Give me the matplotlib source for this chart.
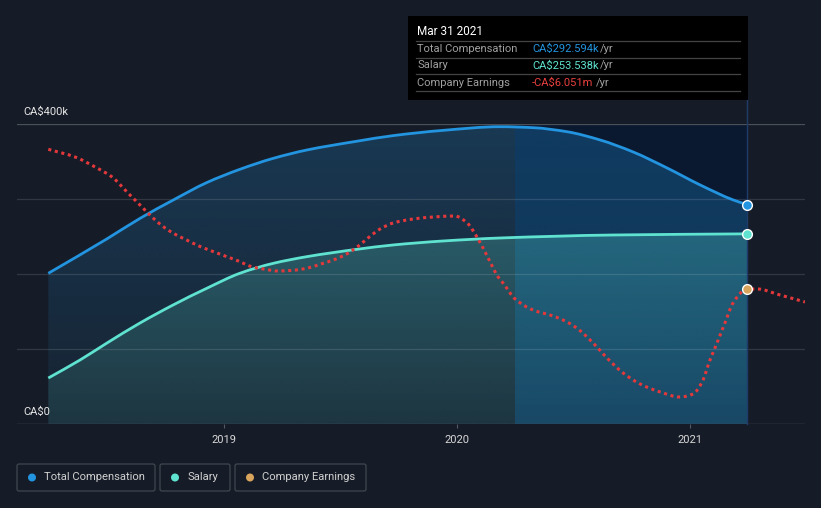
import matplotlib.pyplot as plt
import numpy as np
from matplotlib.colors import to_rgb
from matplotlib.patches import Rectangle, FancyBboxPatch, Circle, PathPatch
from matplotlib.lines import Line2D
from matplotlib.path import Path

plt.rcParams['font.family'] = ['Roboto', 'DejaVu Sans']

# ---------------- dados ----------------
# remuneracao total (CA$ mil)
anos_total = [2018.244, 2018.495, 2018.638, 2018.781, 2018.924, 2019.067, 2019.210,
              2019.354, 2019.569, 2019.725, 2019.939, 2020.184, 2020.326, 2020.472,
              2020.614, 2020.756, 2020.902, 2021.044, 2021.186, 2021.245]
total = [200.9, 246.7, 274.2, 298.7, 321.8, 339.6, 354.2,
         365.3, 377.0, 384.5, 391.5, 396.4, 395.1, 389.7,
         378.7, 362.7, 341.3, 318.7, 298.7, 292.594]

# salario (CA$ mil)
anos_sal = [2018.244, 2018.380, 2018.496, 2018.638, 2018.780, 2018.925, 2019.067,
            2019.210, 2019.354, 2019.569, 2019.725, 2019.939, 2020.184, 2020.670, 2021.245]
salario = [61.3, 85.3, 108.0, 134.7, 158.7, 181.0, 201.0,
           214.2, 223.1, 232.9, 238.7, 244.0, 248.0, 252.0, 253.538]

# lucro da empresa (CA$ milhoes)
anos_lucro = [2018.244, 2018.359, 2018.445, 2018.518, 2018.582, 2018.645, 2018.688,
              2018.734, 2018.781, 2018.838, 2018.891, 2018.946, 2019.003, 2019.060,
              2019.118, 2019.175, 2019.232, 2019.294, 2019.354, 2019.411, 2019.468,
              2019.523, 2019.576, 2019.617, 2019.669, 2019.725, 2019.811, 2019.897,
              2019.991, 2020.043, 2020.090, 2020.133, 2020.176, 2020.197, 2020.249,
              2020.326, 2020.412, 2020.472, 2020.519, 2020.584, 2020.648, 2020.713,
              2020.786, 2020.872, 2020.957, 2021.013, 2021.052, 2021.086, 2021.116,
              2021.150, 2021.185, 2021.245, 2021.288, 2021.387, 2021.494]
lucro = [-0.463, -0.771, -1.171, -1.571, -2.171, -2.759, -3.159,
         -3.531, -3.823, -4.091, -4.331, -4.531, -4.731, -4.931,
         -5.159, -5.263, -5.331, -5.303, -5.223, -5.063, -4.891,
         -4.663, -4.331, -4.011, -3.651, -3.411, -3.251, -3.171,
         -3.131, -3.411, -4.051, -4.811, -5.571, -5.811, -6.451,
         -6.891, -7.131, -7.371, -7.651, -8.211, -8.851, -9.411,
         -9.851, -10.171, -10.371, -10.251, -9.771, -8.891, -8.211,
         -7.411, -6.611, -6.051, -6.051, -6.291, -6.571]
i_tooltip = 51  # ponto do lucro em Mar 31 2021

anos_ticks = [2019, 2020, 2021]
rotulos_y = {0: 'CA$0', 400: 'CA$400k'}
data_tooltip = 'Mar 31 2021'
destaque = [2020.247, 2021.245]

# cores
fundo = '#161c27'
azul = '#2394df'
verde = '#5fe3d0'
vermelho = '#e5383b'
laranja = '#d9a45b'

fig = plt.figure(figsize=(8.21, 5.08), dpi=100, facecolor=fundo)
T = fig.dpi_scale_trans


def P(x, y):
    # pixel (origem no topo) -> polegadas
    return x / 100, (508 - y) / 100


def caminho_suave(x, y, area=False):
    # curva cubica monotona passando pelos pontos (so desenho)
    x = np.asarray(x, float)
    y = np.asarray(y, float)
    h = np.diff(x)
    d = np.diff(y) / h
    m = np.zeros_like(y)
    m[0], m[-1] = d[0], d[-1]
    for i in range(1, len(x) - 1):
        if d[i - 1] * d[i] <= 0:
            m[i] = 0
        else:
            m[i] = 3 * (h[i - 1] + h[i]) / ((2 * h[i] + h[i - 1]) / d[i - 1] + (h[i] + 2 * h[i - 1]) / d[i])
    verts = [(x[0], y[0])]
    codes = [Path.MOVETO]
    for i in range(len(h)):
        verts += [(x[i] + h[i] / 3, y[i] + m[i] * h[i] / 3),
                  (x[i + 1] - h[i] / 3, y[i + 1] - m[i + 1] * h[i] / 3),
                  (x[i + 1], y[i + 1])]
        codes += [Path.CURVE4] * 3
    if area:
        verts = [(x[0], 0)] + verts + [(x[-1], 0), (x[0], 0)]
        codes = [Path.MOVETO, Path.LINETO] + codes[1:] + [Path.LINETO, Path.CLOSEPOLY]
    return Path(verts, codes)


def gradiente(ax, caminho, x0, x1, topo, cor, a_top, a_bot, z):
    img = np.zeros((200, 1, 4))
    img[:, :, :3] = to_rgb(cor)
    img[:, 0, 3] = np.linspace(a_bot, a_top, 200)
    im = ax.imshow(img, aspect='auto', origin='lower', zorder=z, extent=[x0, x1, 0, topo],
                   interpolation='bilinear')
    im.set_clip_path(caminho, ax.transData)


ax = fig.add_axes([17 / 821, 84 / 508, 788 / 821, 300 / 508])
ax.set_facecolor('none')

area_total = caminho_suave(anos_total, total, area=True)
area_sal = caminho_suave(anos_sal, salario, area=True)

gradiente(ax, area_total, anos_total[0], anos_total[-1], max(total), azul, 0.24, 0.06, 1)
gradiente(ax, area_sal, anos_sal[0], anos_sal[-1], max(salario), verde, 0.24, 0.10, 1.1)

# faixa destacada (ultimo ano): escurece em cima, clareia embaixo
ax.axvspan(destaque[0], destaque[1], color='#021839', alpha=0.5, lw=0, zorder=1.2)
gradiente(ax, area_total, destaque[0], destaque[1], max(total), azul, 0.18, 0.22, 1.3)
gradiente(ax, area_sal, destaque[0], destaque[1], max(salario), verde, 0.19, 0.07, 1.4)

# grade
for v in [100, 200, 300]:
    ax.axhline(v, color='white', alpha=0.12, lw=0.9, zorder=1.5)
ax.axhline(400, color='#4a4f58', lw=0.9, zorder=1.5)
ax.axhline(0, color='#4a4f58', lw=1.0, zorder=1.5)

ax.add_patch(PathPatch(caminho_suave(anos_total, total), fill=False, edgecolor=azul,
                       lw=2.0, zorder=3, capstyle='butt'))
ax.add_patch(PathPatch(caminho_suave(anos_sal, salario), fill=False, edgecolor=verde,
                       lw=2.0, zorder=3, capstyle='butt'))

# linha vertical do tooltip
ax.axvline(destaque[1], ymin=0, ymax=324 / 300, color='#1f3b6a', lw=1, clip_on=False, zorder=2)

ax.plot(anos_total[-1], total[-1], 'o', ms=7, mfc=azul, mec='white', mew=1, zorder=6)
ax.plot(anos_sal[-1], salario[-1], 'o', ms=7, mfc=verde, mec='white', mew=1, zorder=6)

ax.set_xlim(2018.1095, 2021.494)
ax.set_ylim(0, 400)
ax.set_yticks([])
ax.set_xticks(anos_ticks)
ax.set_xticklabels([str(a) for a in anos_ticks])
ax.tick_params(axis='x', colors='#555a62', length=3, width=0.8, pad=5, labelcolor='#d8d8d8',
               labelsize=8)
for s in ax.spines.values():
    s.set_visible(False)

for v, r in rotulos_y.items():
    ax.text(2018.137, v + 16, r, color='#e6e6e6', fontsize=8, va='center', ha='left')

# lucro em eixo secundario escondido
ax2 = ax.twinx()
ax2.set_ylim(-11.451, 0.549)
ax2.set_xlim(2018.1095, 2021.494)
ax2.axis('off')
ax2.add_patch(PathPatch(caminho_suave(anos_lucro, lucro), fill=False, edgecolor=vermelho,
                        lw=2.2, ls=(0, (1, 1.2)), zorder=4, capstyle='butt'))
ax2.plot(anos_lucro[i_tooltip], lucro[i_tooltip], 'o', ms=7, mfc=laranja, mec='white', mew=1,
         zorder=6)

# ---------------- tooltip ----------------
fig.patches.append(Rectangle(P(408, 100), 3.40, 0.84, transform=T, facecolor='black',
                             edgecolor='none', zorder=10))
for yy in [40.7, 57.7, 74.3, 91]:
    fig.lines.append(Line2D([4.16, 7.40], [(508 - yy) / 100] * 2, transform=T,
                            color='#444444', lw=0.9, zorder=11))
fig.text(*P(417, 31), data_tooltip, transform=T, color='white', fontsize=8.5,
         va='center', zorder=12)
linhas = [('Total Compensation', f'CA${total[-1]:.3f}k', azul, 600),
          ('Salary', f'CA${salario[-1]:.3f}k', verde, 600),
          ('Company Earnings', f'-CA${abs(lucro[i_tooltip]):.3f}m', '#e8403f', 596)]
for i, (nome, valor, cor, xyr) in enumerate(linhas):
    yy = 48.5 + 17 * i
    fig.text(*P(417, yy), nome, transform=T, color='#a0a0a0', fontsize=8, va='center', zorder=12)
    fig.text(*P(532, yy), valor, transform=T, color=cor, fontsize=8, va='center', zorder=12)
    fig.text(*P(xyr, yy), '/yr', transform=T, color='#a0a0a0', fontsize=8, va='center', zorder=12)

# ---------------- legenda ----------------
legenda = [('Total Compensation', azul, 17, 155),
           ('Salary', verde, 160, 230),
           ('Company Earnings', laranja, 235, 366)]
for nome, cor, x0, x1 in legenda:
    fig.patches.append(FancyBboxPatch(P(x0, 491), (x1 - x0) / 100, 0.27, transform=T,
                                      boxstyle='round,pad=0,rounding_size=0.02',
                                      facecolor='none', edgecolor='#41464f', lw=0.9))
    fig.patches.append(Circle(P(x0 + 15, 477.5), 0.04, transform=T, facecolor=cor,
                              edgecolor='none'))
    fig.text(*P(x0 + 27, 477.5), nome, transform=T, color='#d0d0d0', fontsize=8.1,
             va='center')

fig.savefig('out.png', dpi=100, facecolor=fundo)
